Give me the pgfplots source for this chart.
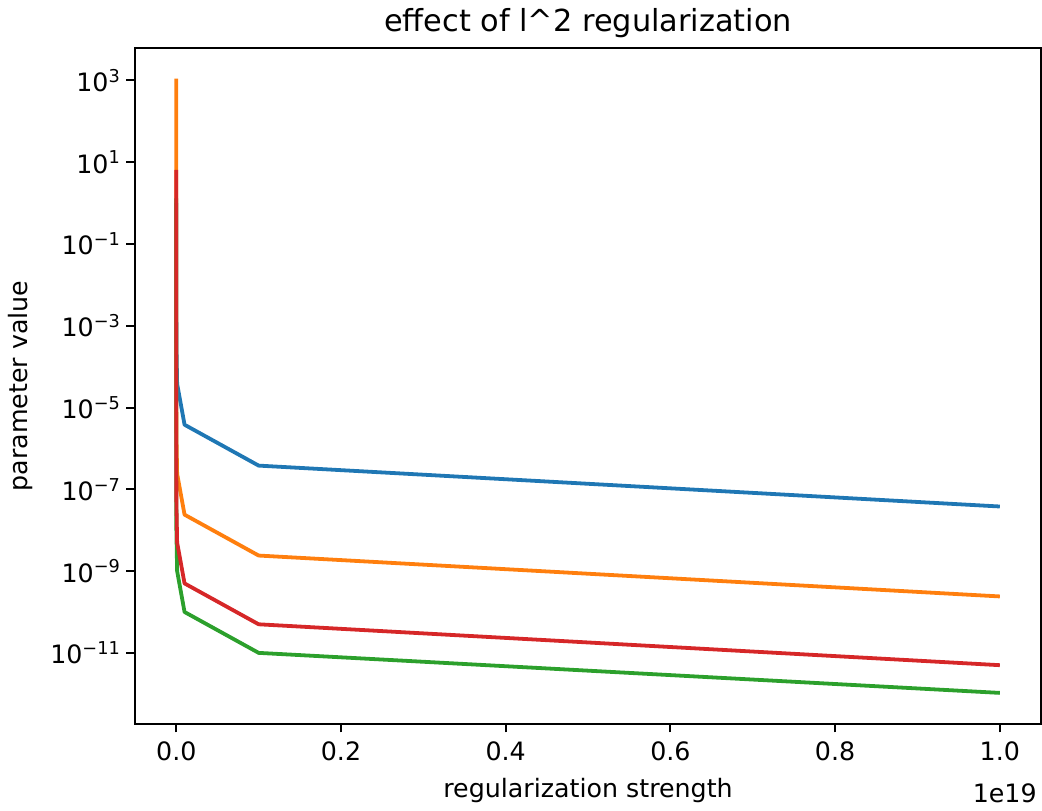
\documentclass[border=0pt]{standalone}
\usepackage{fontspec}
\setmainfont{DejaVu Sans}
\usepackage{pgfplots}
\pgfplotsset{compat=1.18}
\definecolor{mplblue}{HTML}{1F77B4}
\definecolor{mplorange}{HTML}{FF7F0E}
\definecolor{mplgreen}{HTML}{2CA02C}
\definecolor{mplred}{HTML}{D62728}
\begin{document}
\begin{tikzpicture}
\begin{axis}[
    width=358pt, height=267pt, scale only axis,
    clip mode=individual,
    xmin=-0.05, xmax=1.05,
    ymode=log, ymin=1.86e-13, ymax=6.2e3,
    xtick={0,0.2,0.4,0.6,0.8,1.0},
    xticklabels={0.0,0.2,0.4,0.6,0.8,1.0},
    ytick={1e3,1e1,1e-1,1e-3,1e-5,1e-7,1e-9,1e-11},
    yticklabels={10\textsuperscript{3},10\textsuperscript{1},10\textsuperscript{−1},10\textsuperscript{−3},10\textsuperscript{−5},10\textsuperscript{−7},10\textsuperscript{−9},10\textsuperscript{−11}},
    yminorticks=false, xminorticks=false,
    tick align=outside, tick pos=left,
    major tick length=3.5pt,
    every tick/.style={black, line width=0.8pt},
    axis line style={line width=0.8pt},
    title={effect of l\textasciicircum 2 regularization},
    xlabel={regularization strength},
    ylabel={parameter value},
    tick label style={font=\fontsize{10}{12}\selectfont},
    yticklabel style={xshift=1.5pt},
    label style={font=\fontsize{10}{12}\selectfont},
    title style={font=\fontsize{12}{14}\selectfont, yshift=-5.5pt},
    every axis plot/.append style={line width=1.5pt, line join=round},
]
% x in units of 1e19
\addplot[mplblue] coordinates {
    (0,1.0) (0.00001,3.8e-3) (0.0001,3.8e-4) (0.001,3.8e-5)
    (0.01,3.8e-6) (0.1,3.8e-7) (1,3.8e-8)
};
\addplot[mplorange] coordinates {
    (0,1100) (0.00001,2.4e-5) (0.0001,2.4e-6) (0.001,2.4e-7)
    (0.01,2.4e-8) (0.1,2.4e-9) (1,2.4e-10)
};
\addplot[mplgreen] coordinates {
    (0,1.3) (0.00001,1e-7) (0.0001,1e-8) (0.001,1e-9)
    (0.01,1e-10) (0.1,1e-11) (1,1.05e-12)
};
\addplot[mplred] coordinates {
    (0,6.5) (0.00001,5e-7) (0.0001,5e-8) (0.001,5e-9)
    (0.01,5e-10) (0.1,5e-11) (1,5e-12)
};
\node[anchor=base east, inner sep=0pt, font=\fontsize{10}{12}\selectfont, xshift=-1.5pt, yshift=-31.3pt]
    at (rel axis cs:1,0) {1e19};
\end{axis}
\end{tikzpicture}
\end{document}
